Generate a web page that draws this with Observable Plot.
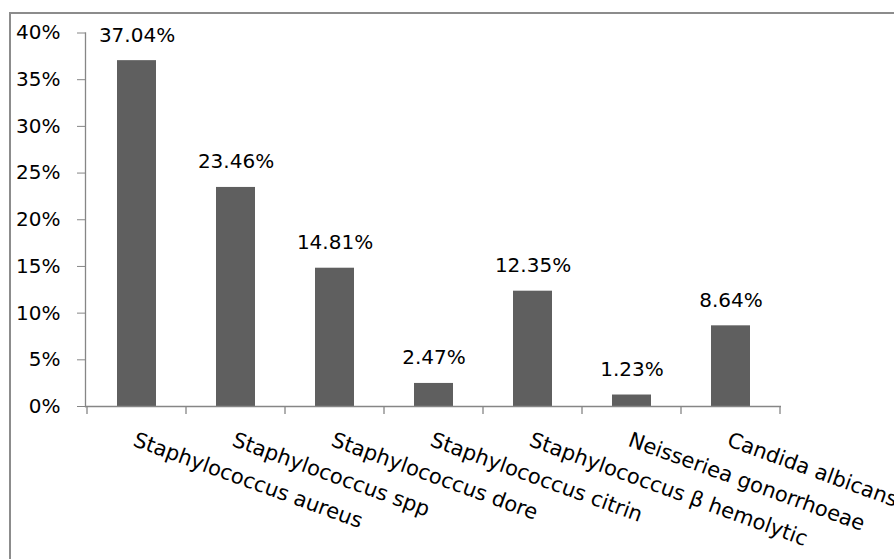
<!DOCTYPE html>
<html>
<head>
<meta charset="utf-8">
<script src="https://cdn.jsdelivr.net/npm/d3@7"></script>
<script src="https://cdn.jsdelivr.net/npm/@observablehq/plot@0.6"></script>
<style>
  html, body { margin: 0; padding: 0; background: #fff; overflow: hidden; }
  #wrap { position: relative; width: 894px; height: 559px; overflow: hidden; }
  #border { position: absolute; left: 9px; top: 12px; width: 900px; height: 600px; border: 2px solid #8c8c8c; box-sizing: border-box; pointer-events: none; }
  #chart { position: absolute; left: 0; top: 0; }
</style>
</head>
<body>
<div id="wrap"><div id="border"></div><div id="chart"></div></div>
<script>
const categories = [
  "Staphylococcus aureus",
  "Staphylococcus spp",
  "Staphylococcus dore",
  "Staphylococcus citrin",
  "Staphylococcus β hemolytic",
  "Neisseriea gonorrhoeae",
  "Candida albicans"
];
const values = [37.04, 23.46, 14.81, 2.47, 12.35, 1.23, 8.64];
const yTicks = [0, 5, 10, 15, 20, 25, 30, 35, 40];

const data = categories.map((name, i) => ({name, value: values[i]}));
const axisColor = "#868686";

const plot = Plot.plot({
  width: 894,
  height: 559,
  marginLeft: 85,
  marginRight: 113,
  marginTop: 32.5,
  marginBottom: 153,
  style: {fontFamily: "'DejaVu Sans', sans-serif", fontSize: "20px", color: "#000", background: "transparent", overflow: "visible"},
  x: {domain: categories, paddingInner: 0.61, paddingOuter: 0.305, axis: null},
  y: {domain: [0, 40], axis: null},
  marks: [
    Plot.barY(data, {x: "name", y: "value", fill: "#5f5f5f"}),
    Plot.axisY({ticks: yTicks, tickSize: 8, tickPadding: 17, tickFormat: d => d + "%", label: null, stroke: axisColor, fill: "#000", fontSize: 20}),
    Plot.frame({anchor: "left", stroke: axisColor, strokeWidth: 1.3}),
    Plot.ruleY([0], {stroke: axisColor, strokeWidth: 1.3}),
    Plot.text(data, {x: "name", y: "value", text: d => d.value.toFixed(2) + "%", lineAnchor: "bottom", dy: -19, fontSize: 20, fill: "#000"}),
    Plot.text(data, {x: "name", frameAnchor: "bottom", text: "name", rotate: 20, textAnchor: "start", lineAnchor: "top", dy: 25, fontSize: 21, fill: "#000"})
  ]
});

document.getElementById("chart").appendChild(plot);

// x-axis tick marks at category boundaries, computed from Plot's band scale
const xs = plot.scale("x");
const ys = plot.scale("y");
const gap = (xs.step - xs.bandwidth) / 2;
const bounds = categories.map(c => xs.apply(c) - gap);
bounds.push(xs.apply(categories[categories.length - 1]) + xs.bandwidth + gap);
const y0 = ys.apply(0);
d3.select(plot).append("g")
  .attr("stroke", axisColor)
  .attr("stroke-width", 1.3)
  .selectAll("line")
  .data(bounds)
  .join("line")
  .attr("x1", d => d).attr("x2", d => d)
  .attr("y1", y0).attr("y2", y0 + 8);
</script>
</body>
</html>
